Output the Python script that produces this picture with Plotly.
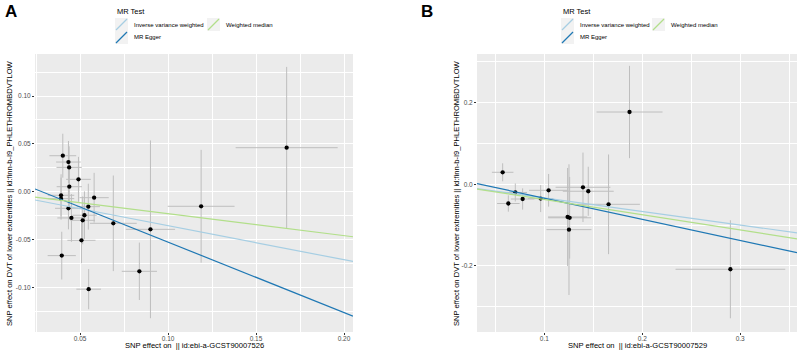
import plotly.graph_objects as go

W, H = 800, 350

# ---------------- Data: Panel A ----------------
bx_A = [0.0402, 0.0434, 0.0438, 0.0491, 0.0439, 0.0392, 0.0392, 0.0580, 0.0434, 0.0547,
        0.0451, 0.0525, 0.0515, 0.0689, 0.0508, 0.0396, 0.0549, 0.0837, 0.0900, 0.1188, 0.1674]
by_A = [0.0376, 0.0310, 0.0254, 0.0129, 0.0052, -0.0038, -0.0073, -0.0063, -0.0174, -0.0157,
        -0.0275, -0.0247, -0.0300, -0.0331, -0.0509, -0.0669, -0.1020, -0.0833, -0.0394, -0.0153, 0.0460]
sex_A = [0.0076, 0.0070, 0.0072, 0.0070, 0.0072, 0.0075, 0.0075, 0.0083, 0.0076, 0.0066,
         0.0080, 0.0070, 0.0070, 0.0133, 0.0080, 0.0080, 0.0070, 0.0100, 0.0140, 0.0190, 0.0290]
sey_A = [0.0230, 0.0220, 0.0220, 0.0235, 0.0240, 0.0220, 0.0220, 0.0260, 0.0220, 0.0240,
         0.0250, 0.0250, 0.0250, 0.0500, 0.0240, 0.0250, 0.0210, 0.0300, 0.0930, 0.0590, 0.0845]
slope_A = {"Inverse variance weighted": -0.356, "MR Egger": -0.736, "Weighted median": -0.230}
icpt_A = {"Inverse variance weighted": 0.0, "MR Egger": 0.0208, "Weighted median": 0.0}
xrange_A = [0.0244, 0.2051]
yrange_A = [-0.1468, 0.144]
xticks_A = [0.05, 0.10, 0.15, 0.20]
xticktext_A = ["0.05", "0.10", "0.15", "0.20"]
yticks_A = [-0.10, -0.05, 0.0, 0.05, 0.10]
yticktext_A = ["-0.10", "-0.05", "0.00", "0.05", "0.10"]
xtitle_A = "SNP effect on  || id:ebi-a-GCST90007526"

# ---------------- Data: Panel B ----------------
bx_B = [0.0575, 0.0633, 0.0704, 0.0779, 0.0963, 0.1044, 0.1238, 0.1259, 0.1252, 0.1395,
        0.1449, 0.1870, 0.1656, 0.2900]
by_B = [0.0294, -0.0470, -0.0200, -0.0360, -0.0350, -0.0147, -0.0800, -0.0820, -0.1110, -0.0073,
        -0.0170, 0.1770, -0.0490, -0.2080]
sex_B = [0.0110, 0.0115, 0.0120, 0.0120, 0.0130, 0.0200, 0.0200, 0.0220, 0.0230, 0.0280,
         0.0260, 0.0337, 0.0320, 0.0560]
sey_B = [0.0220, 0.0200, 0.0220, 0.0260, 0.0330, 0.0400, 0.1200, 0.1000, 0.1600, 0.0850,
         0.0600, 0.1130, 0.1220, 0.1200]
slope_B = {"Inverse variance weighted": -0.332, "MR Egger": -0.518, "Weighted median": -0.373}
icpt_B = {"Inverse variance weighted": 0.0, "MR Egger": 0.018, "Weighted median": 0.0}
xrange_B = [0.0313, 0.358]
yrange_B = [-0.3616, 0.319]
xticks_B = [0.1, 0.2, 0.3]
xticktext_B = ["0.1", "0.2", "0.3"]
yticks_B = [-0.2, 0.0, 0.2]
yticktext_B = ["-0.2", "0.0", "0.2"]
xtitle_B = "SNP effect on  || id:ebi-a-GCST90007529"

ytitle = "SNP effect on DVT of lower extremities || id:finn-b-I9_PHLETHROMBDVTLOW"
methods = ["Inverse variance weighted", "MR Egger", "Weighted median"]
colors = {"Inverse variance weighted": "#A6CEE3", "MR Egger": "#1F78B4", "Weighted median": "#B2DF8A"}
legend_title = "MR Test"
panel_labels = ["A", "B"]

FONT = "Liberation Sans, Arial, sans-serif"


def px(x):
    return x / W


def py(y):
    return 1 - y / H


fig = go.Figure()


def add_panel(bx, by, sex, sey, slope, icpt, xr, xa, ya):
    fig.add_trace(go.Scatter(
        x=bx, y=by, mode="markers",
        marker=dict(color="black", size=4.3),
        error_x=dict(type="data", array=sex, width=0, color="#BEBEBE", thickness=1),
        error_y=dict(type="data", array=sey, width=0, color="#BEBEBE", thickness=1),
        xaxis=xa, yaxis=ya, showlegend=False, hoverinfo="x+y"))
    for m in methods:
        xs = [xr[0], xr[1]]
        ys = [icpt[m] + slope[m] * v for v in xs]
        fig.add_trace(go.Scatter(
            x=xs, y=ys, mode="lines", line=dict(color=colors[m], width=1.2),
            xaxis=xa, yaxis=ya, showlegend=False, name=m))


add_panel(bx_A, by_A, sex_A, sey_A, slope_A, icpt_A, xrange_A, "x", "y")
add_panel(bx_B, by_B, sex_B, sey_B, slope_B, icpt_B, xrange_B, "x2", "y2")

ydom = [py(332), py(54)]
common = dict(showgrid=True, gridcolor="white", gridwidth=1.1, zeroline=False,
              ticks="outside", ticklen=2, tickcolor="#333333", tickwidth=1,
              tickfont=dict(family=FONT, size=6.5, color="#4D4D4D"),
              showline=False)


def axis(dom, rng, tv, tt, minor_dt, anchor, standoff):
    d = dict(common)
    d.update(domain=dom, range=rng, tickvals=tv, ticktext=tt, anchor=anchor,
             ticklabelstandoff=standoff,
             minor=dict(showgrid=True, gridcolor="white", gridwidth=0.5, dtick=minor_dt, tick0=0,
                        ticks=""))
    return d


fig.update_layout(
    width=W, height=H,
    margin=dict(l=0, r=0, t=0, b=0),
    paper_bgcolor="white", plot_bgcolor="#EBEBEB",
    xaxis=axis([px(35), px(353)], xrange_A, xticks_A, xticktext_A, 0.025, "y", -2),
    yaxis=axis(ydom, yrange_A, yticks_A, yticktext_A, 0.025, "x", 0),
    xaxis2=axis([px(477), px(797)], xrange_B, xticks_B, xticktext_B, 0.05, "y2", -2),
    yaxis2=axis(ydom, yrange_B, yticks_B, yticktext_B, 0.1, "x2", 0),
    showlegend=False,
)

ann = []
shapes = []
# axis titles
for cx, t in [((35 + 353) / 2, xtitle_A), ((477 + 797) / 2, xtitle_B)]:
    ann.append(dict(x=px(cx), y=py(345), xref="paper", yref="paper", text=t, showarrow=False,
                    font=dict(family=FONT, size=7.6, color="black"), xanchor="center", yanchor="middle"))
for cx in [10, 457]:
    ann.append(dict(x=px(cx), y=py(193), xref="paper", yref="paper", text=ytitle, showarrow=False,
                    textangle=-90, font=dict(family=FONT, size=7.6, color="black"),
                    xanchor="center", yanchor="middle"))
# panel labels
for (lx, ly), lab in zip([(11, 11), (427, 11)], panel_labels):
    ann.append(dict(x=px(lx), y=py(ly), xref="paper", yref="paper", text="<b>%s</b>" % lab,
                    showarrow=False, font=dict(family=FONT, size=17, color="black"),
                    xanchor="center", yanchor="middle"))

# legends (ggplot-style, top)
for ox in [115, 561]:
    ann.append(dict(x=px(ox), y=py(12), xref="paper", yref="paper", text=legend_title, showarrow=False,
                    font=dict(family=FONT, size=7.5, color="black"), xanchor="left", yanchor="middle"))
    keys = [("Inverse variance weighted", ox, 18), ("MR Egger", ox, 31),
            ("Weighted median", ox + (92 if ox == 115 else 91), 18)]
    for m, kx, ky in keys:
        ks = 13
        shapes.append(dict(type="rect", xref="paper", yref="paper",
                           x0=px(kx), x1=px(kx + ks), y0=py(ky + ks), y1=py(ky),
                           fillcolor="#F2F2F2", line=dict(width=0)))
        shapes.append(dict(type="line", xref="paper", yref="paper",
                           x0=px(kx + 1), x1=px(kx + ks - 1), y0=py(ky + ks - 1), y1=py(ky + 1),
                           line=dict(color=colors[m], width=1.2)))
        ann.append(dict(x=px(kx + ks + 4), y=py(ky + ks / 2), xref="paper", yref="paper", text=m,
                        showarrow=False, font=dict(family=FONT, size=6, color="black"),
                        xanchor="left", yanchor="middle"))

fig.update_layout(annotations=ann, shapes=shapes)
fig.write_html("out.html", config={"displayModeBar": False},
               post_script="document.body.style.margin='0px';")
